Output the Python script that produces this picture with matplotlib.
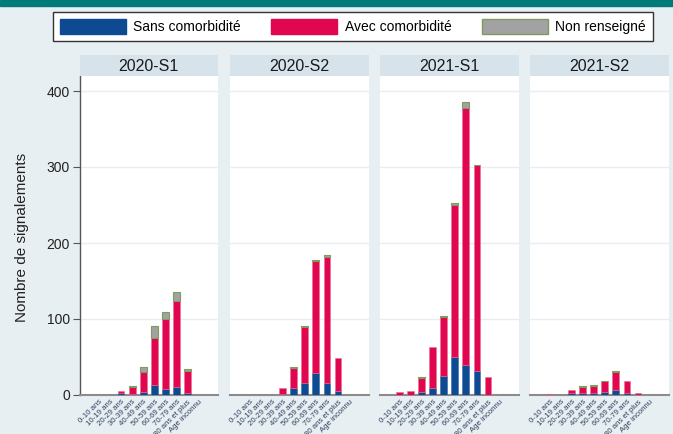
import numpy as np
import matplotlib
matplotlib.use("Agg")
import matplotlib.pyplot as plt
from matplotlib.patches import Patch, Rectangle

plt.rcParams['font.family'] = ['Liberation Sans', 'DejaVu Sans']

ages = ['0-10 ans', '10-19 ans', '20-29 ans', '30-39 ans', '40-49 ans',
        '50-59 ans', '60-69 ans', '70-79 ans', '80 ans et plus', 'Age inconnu']
periods = ['2020-S1', '2020-S2', '2021-S1', '2021-S2']

# values (approx.)
sans_2020s1 = [0, 0, 2, 1, 4, 13, 8, 11, 3, 0]
avec_2020s1 = [0, 0, 3, 9, 26, 62, 92, 113, 29, 0]
nr_2020s1 = [0, 0, 0, 2, 7, 16, 9, 11, 2, 0]

sans_2020s2 = [0, 0, 0, 1, 9, 16, 29, 16, 5, 0]
avec_2020s2 = [0, 0, 0, 8, 27, 74, 147, 166, 44, 0]
nr_2020s2 = [0, 0, 0, 0, 1, 1, 2, 2, 0, 0]

sans_2021s1 = [0, 0, 4, 9, 25, 50, 40, 32, 0, 0]
avec_2021s1 = [4, 5, 19, 54, 78, 200, 338, 270, 24, 0]
nr_2021s1 = [0, 0, 1, 0, 1, 3, 7, 1, 0, 0]

sans_2021s2 = [0, 0, 3, 2, 3, 4, 6, 2, 0, 0]
avec_2021s2 = [1, 0, 3, 9, 9, 14, 24, 16, 2, 0]
nr_2021s2 = [0, 0, 0, 1, 1, 1, 1, 0, 0, 0]

sans = [sans_2020s1, sans_2020s2, sans_2021s1, sans_2021s2]
avec = [avec_2020s1, avec_2020s2, avec_2021s1, avec_2021s2]
nr = [nr_2020s1, nr_2020s2, nr_2021s1, nr_2021s2]

blue = '#0d4a92'
red = '#e0064f'
grey = '#a2a2a2'
bg = '#e8eff2'
strip_col = '#d7e3ea'

W, H = 673, 434
fig = plt.figure(figsize=(W / 100, H / 100), dpi=100, facecolor=bg)

# teal band on top
fig.patches.append(Rectangle((0, 1 - 6 / H), 1, 6 / H, transform=fig.transFigure,
                             color='#007b7a', zorder=0))

lefts = [79.5, 230, 380, 530]
pw = 138.5
top_px, bot_px = 76, 395
x = np.arange(len(ages))
bw = 0.62

for i, per in enumerate(periods):
    l = lefts[i]
    ax = fig.add_axes([l / W, 1 - bot_px / H, pw / W, (bot_px - top_px) / H])
    ax.set_facecolor('white')
    s = np.array(sans[i])
    a = np.array(avec[i])
    n = np.array(nr[i])
    m = s > 0
    ax.bar(x[m], s[m], bw, color=blue, edgecolor='#3a68a8', linewidth=0.4, zorder=3)
    m = a > 0
    ax.bar(x[m], a[m], bw, bottom=s[m], color=red, edgecolor='#ee6f95', linewidth=0.4, zorder=3)
    m = n > 0
    ax.bar(x[m], n[m], bw, bottom=(s + a)[m], color=grey, edgecolor='#7e9d5c',
           linewidth=0.8, zorder=3)

    ax.set_xlim(-1.75, 10.75)
    ax.set_ylim(0, (bot_px - top_px) / 0.76)
    ax.set_yticks([0, 100, 200, 300, 400])
    ax.yaxis.grid(True, color='#e6eef2', linewidth=1)
    ax.set_axisbelow(True)
    ax.set_xticks(x)
    ax.set_xticklabels(ages, rotation=45, ha='right', rotation_mode='anchor',
                       fontsize=5.6, color='#2f3f60')
    ax.tick_params(axis='x', length=0, pad=2.5)
    for sp in ['top', 'right']:
        ax.spines[sp].set_visible(False)
    ax.spines['bottom'].set_color('#8c8c8c')
    ax.spines['bottom'].set_linewidth(1.5)
    if i == 0:
        ax.spines['left'].set_color('#555555')
        ax.spines['left'].set_linewidth(1)
        ax.tick_params(axis='y', length=5, color='#555555', labelsize=10,
                       labelcolor='#222222', pad=2)
    else:
        ax.spines['left'].set_visible(False)
        ax.tick_params(axis='y', left=False, labelleft=False)

    # strip with period title
    sax = fig.add_axes([l / W, 1 - 76 / H, pw / W, 21 / H])
    sax.set_facecolor(strip_col)
    sax.set_xticks([])
    sax.set_yticks([])
    for sp in sax.spines.values():
        sp.set_visible(False)
    sax.text(0.5, 0.45, per, ha='center', va='center', fontsize=11.5,
             color='#1a1a1a', transform=sax.transAxes)

fig.text(22 / W, 1 - 237 / H, 'Nombre de signalements', rotation=90,
         ha='center', va='center', fontsize=11, color='#222222')

handles = [Patch(facecolor=blue, edgecolor=blue),
           Patch(facecolor=red, edgecolor=red),
           Patch(facecolor=grey, edgecolor='#7e9d5c')]
labels = ['Sans comorbidité', 'Avec comorbidité', 'Non renseigné']
leg = fig.legend(handles, labels, ncol=3, loc='center',
                 bbox_to_anchor=(46 / W, 1 - 42.7 / H, 614 / W, 32 / H),
                 mode='expand', fontsize=10, handlelength=4.75, handleheight=1.3,
                 handletextpad=0.55, columnspacing=2.2, borderpad=0.5,
                 fancybox=False, framealpha=1, edgecolor='#333333')
leg.get_frame().set_linewidth(1)

fig.savefig('out.png', dpi=100, facecolor=bg)
